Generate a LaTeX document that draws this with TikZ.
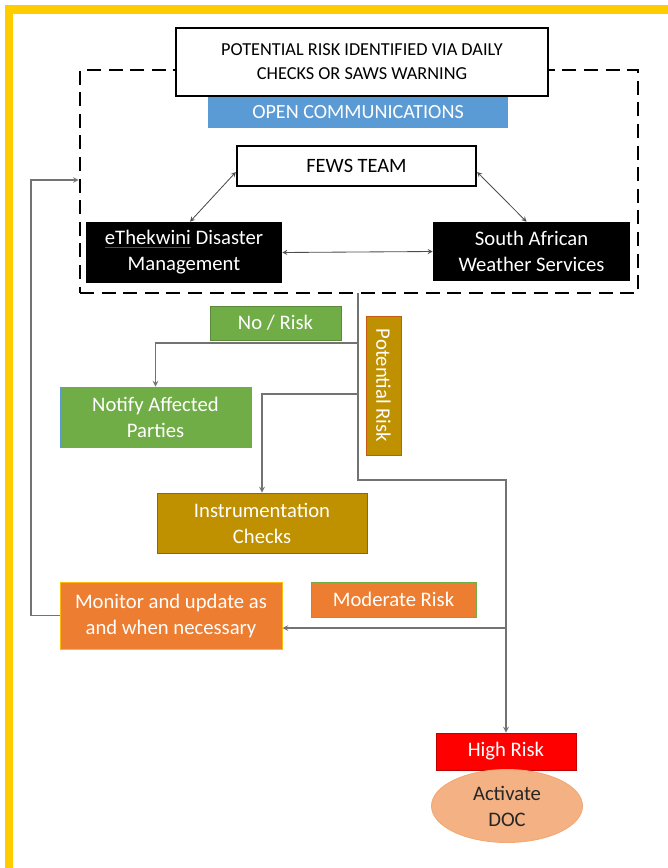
\documentclass[tikz,border=0pt]{standalone}
\usepackage{fontspec}
\setmainfont{Carlito}
\usetikzlibrary{shapes.geometric}

\definecolor{framey}{HTML}{FFCC00}
\definecolor{openblue}{HTML}{5B9BD5}
\definecolor{leaf}{HTML}{70AD47}
\definecolor{gold}{HTML}{BF9000}
\definecolor{orng}{HTML}{ED7D31}
\definecolor{salmon}{HTML}{F4B183}
\definecolor{darkred}{HTML}{C00000}
\definecolor{rustline}{HTML}{C55A11}
\definecolor{steel}{HTML}{41719C}
\definecolor{linkblue}{HTML}{2E46B8}

\newlength\pxu
\setlength\pxu{0.025cm}
\newcommand{\linkword}[1]{\setbox0\hbox{#1}\rlap{\textcolor{linkblue}{\rule[-2.4pt]{\wd0}{1.1pt}}}\box0}

\begin{document}
\begin{tikzpicture}[x=0.025cm, y=-0.025cm, every node/.style={align=center, inner sep=0pt, font=\fontsize{14.7}{18.5}\selectfont}, >=stealth]
    % styles
    \tikzstyle{plain} = [rectangle, draw=black, line width=1.6pt, fill=white]
    \tikzstyle{agency} = [rectangle, fill=black, text=white]
    \tikzstyle{colorbox} = [rectangle, line width=0.7pt, text=white]
    \tikzstyle{group} = [rectangle, draw=black, line width=1.8pt, dash pattern=on 0.35cm off 0.19cm]
    \tikzstyle{arrow} = [draw=black!55, line width=0.8pt, ->]
    \tikzstyle{link} = [draw=black!70, line width=0.6pt, <->]

    \useasboundingbox (0,0) rectangle (668,868);

    % frame
    \fill[framey] (5,5) rectangle (668,14);
    \fill[framey] (5,5) rectangle (13,868);

    % team group
    \node[group, minimum width=558\pxu, minimum height=223\pxu] (grp) at (359,181.5) {};
    \node[plain, minimum width=372\pxu, minimum height=68\pxu, font=\fontsize{13}{17}\selectfont] (risk) at (362,62) {POTENTIAL RISK IDENTIFIED VIA DAILY\\CHECKS OR SAWS WARNING};
    \node[colorbox, fill=openblue, minimum width=300\pxu, minimum height=31\pxu, font=\fontsize{14.3}{17}\selectfont] (open) at (358,112.5) {OPEN COMMUNICATIONS};
    \node[plain, minimum width=239\pxu, minimum height=40\pxu, font=\fontsize{14.5}{17}\selectfont] (fews) at (356.5,166) {FEWS TEAM};
    \node[agency, minimum width=196\pxu, minimum height=61\pxu] (eth) at (184,252.5) {\linkword{eThekwini}\ Disaster\\Management};
    \node[agency, minimum width=197\pxu, minimum height=59\pxu] (saws) at (531.5,251.5) {South African\\Weather Services};

    % risk levels
    \node[colorbox, fill=leaf, draw=leaf!80!black, minimum width=131\pxu, minimum height=34\pxu] (norisk) at (275.5,323) {No / Risk};
    \node[colorbox, fill=leaf, draw=openblue, minimum width=191\pxu, minimum height=60\pxu] (notify) at (155.5,417) {Notify Affected\\Parties};
    \node[colorbox, fill=gold, draw=rustline, rotate=-90, minimum width=139\pxu, minimum height=35\pxu] (potential) at (383.5,385.5) {Potential Risk};
    \node[colorbox, fill=gold, draw=steel, minimum width=210\pxu, minimum height=60\pxu] (instr) at (262,523) {Instrumentation\\Checks};
    \node[colorbox, fill=orng, draw=leaf, minimum width=165\pxu, minimum height=35\pxu] (moderate) at (393.5,599.5) {Moderate Risk};
    \node[colorbox, fill=orng, draw=framey!80!orng, minimum width=222\pxu, minimum height=67\pxu] (monitor) at (171,615.5) {Monitor and update as\\and when necessary};
    \node[colorbox, fill=red, draw=darkred, minimum width=140\pxu, minimum height=37\pxu] (high) at (506,751.5) {High Risk};
    \node[ellipse, fill=salmon, draw=salmon!80!orng, line width=0.6pt, minimum width=151\pxu, minimum height=73\pxu, text=black!85] (doc) at (507,806) {Activate\\DOC};

    % links inside the team
    \draw[link] ([yshift=-6\pxu]fews.west) -- ([xshift=6\pxu]eth.north);
    \draw[link] ([yshift=-6\pxu]fews.east) -- ([xshift=-5\pxu]saws.north);
    \draw[link] (eth.east) -- (saws.west);

    % decision lines
    \coordinate (split) at (358,293);
    \coordinate (turn) at (358,480);
    \coordinate (b1) at (358,343);
    \coordinate (b2) at (358,394);
    \coordinate (b3) at (506,628);
    \coordinate (back) at (31,180);
    \draw[arrow] (split) -- (turn) -| (high.north);
    \draw[arrow] (b1) -| (notify.north);
    \draw[arrow] (b2) -| (instr.north);
    \draw[arrow] (b3) -- (b3 -| monitor.east);
    \draw[arrow] (monitor.west) -| (back) -- (back -| grp.west);
\end{tikzpicture}
\end{document}
